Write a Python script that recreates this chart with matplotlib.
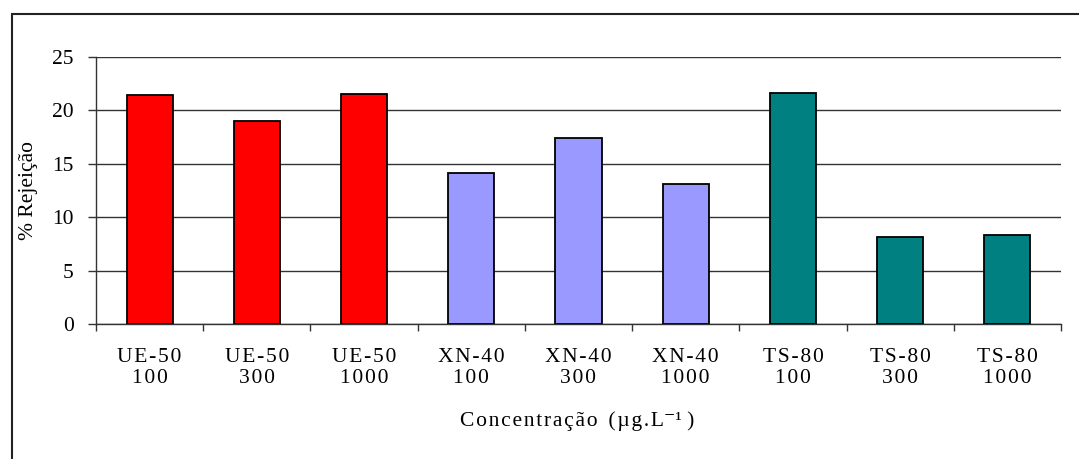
import matplotlib
matplotlib.use("Agg")
import matplotlib.pyplot as plt
from matplotlib.patches import Rectangle
import numpy as np

membranes = ["UE-50", "UE-50", "UE-50", "XN-40", "XN-40", "XN-40", "TS-80", "TS-80", "TS-80"]
concentrations = ["100", "300", "1000", "100", "300", "1000", "100", "300", "1000"]
rejection = [21.4, 19.0, 21.5, 14.1, 17.4, 13.1, 21.6, 8.1, 8.3]
bar_colors = ["#FF0000"] * 3 + ["#9999FF"] * 3 + ["#008080"] * 3

plt.rcParams["font.family"] = ["Liberation Serif", "DejaVu Serif"]
plt.rcParams["font.size"] = 15.5


def spaced(s, sep="\u200a"):
    # Excel-style tracking: thin gap between every glyph
    return sep.join(s)


fig = plt.figure(figsize=(10.79, 4.59), dpi=100)
ax = fig.add_axes([96 / 1079, 135 / 459, 965 / 1079, 267.3 / 459])

x = np.arange(len(rejection))
ax.bar(x, rejection, width=0.43, color=bar_colors, edgecolor="black",
       linewidth=1.3, zorder=3)

ax.set_xlim(-0.5, len(rejection) - 0.5)
ax.set_ylim(0, 25)
ax.set_yticks(np.arange(0, 26, 5))
ax.grid(axis="y", color="#333333", linewidth=1.0, zorder=0)

labels = [spaced(m) + "\n" + spaced(c) for m, c in zip(membranes, concentrations)]
ax.set_xticks(x)
ax.set_xticklabels(labels, linespacing=1.2)
ax.set_xticks(np.arange(-0.5, len(rejection)), minor=True)
ax.tick_params(axis="x", which="major", length=0, pad=17)
ax.tick_params(axis="x", which="minor", length=5, width=1, color="#333333")
ax.tick_params(axis="y", length=6, width=1, pad=10, color="#333333")

for side in ("top", "right"):
    ax.spines[side].set_visible(False)
for side in ("left", "bottom"):
    ax.spines[side].set_color("#333333")
    ax.spines[side].set_linewidth(1.0)

ax.set_ylabel("% Rejeição", va="center", ha="center")
ax.yaxis.set_label_coords(-68 / 965, 0.5)

fig.text(577 / 1079, 1 - 421 / 459,
         spaced("Concentração") + "  " + spaced("(µg.L") + "\u207b\u00b9 )",
         ha="center", va="center")

# chart-area frame, running off the right and bottom edges
fig.patches.append(Rectangle((12 / 1079, -0.1), 1.2, 0.1 + (459 - 14) / 459,
                             transform=fig.transFigure, fill=False,
                             edgecolor="#222222", linewidth=1.5))

fig.savefig("out.png", dpi=100)
